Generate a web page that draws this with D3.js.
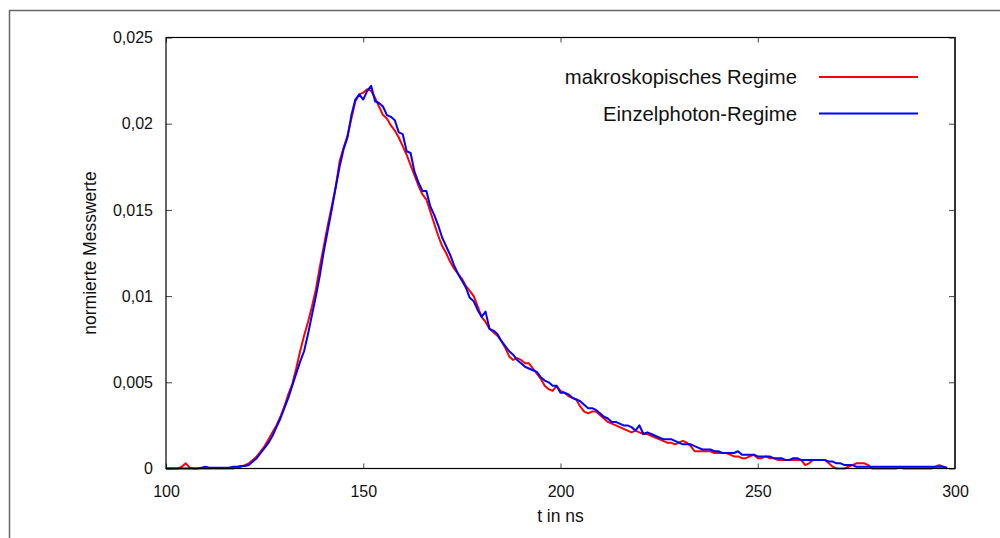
<!DOCTYPE html>
<html>
<head>
<meta charset="utf-8">
<script src="https://cdn.jsdelivr.net/npm/d3@7"></script>
<style>
  html, body { margin: 0; padding: 0; background: #fff; }
  svg { display: block; font-family: "Liberation Sans", Arial, sans-serif; }
</style>
</head>
<body>
<svg id="chart" width="1000" height="538"></svg>
<script>
// ---- data ----
const times = [
  100,101,102,103,104,105,106,107,108,109,110,111,112,113,114,115,116,117,118,119,
  120,121,122,123,124,125,126,127,128,129,130,131,132,133,134,135,136,137,138,139,
  140,141,142,143,144,145,146,147,148,149,150,151,152,153,154,155,156,157,158,159,
  160,161,162,163,164,165,166,167,168,169,170,171,172,173,174,175,176,177,178,179,
  180,181,182,183,184,185,186,187,188,189,190,191,192,193,194,195,196,197,198,199,
  200,201,202,203,204,205,206,207,208,209,210,211,212,213,214,215,216,217,218,219,
  220,221,222,223,224,225,226,227,228,229,230,231,232,233,234,235,236,237,238,239,
  240,241,242,243,244,245,246,247,248,249,250,251,252,253,254,255,256,257,258,259,
  260,261,262,263,264,265,266,267,268,269,270,271,272,273,274,275,276,277,278,279,
  280,281,282,283,284,285,286,287,288,289,290,291,292,293,294,295,296,297,298
];

const makroskopisch = [
  0,0,0,0,0.0001,0.0003,0.00005,0,0,0,0,0,0,0,0,0,0,0,0.00005,0.0001,
  0.0002,0.0003,0.0005,0.0007,0.001,0.0013,0.0017,0.0021,0.0025,0.003,0.0036,0.0043,0.0049,0.0058,0.0068,0.0077,0.0085,0.0094,0.0104,0.0117,
  0.0129,0.0141,0.0152,0.0163,0.0178,0.0186,0.0193,0.0203,0.0213,0.0217,0.0218,0.022,0.0219,0.0215,0.021,0.0205,0.0203,0.0199,0.0196,0.0192,
  0.0187,0.0182,0.0176,0.017,0.0164,0.0159,0.0156,0.0149,0.0142,0.0135,0.0129,0.0125,0.012,0.0116,0.0113,0.011,0.0106,0.0103,0.01,0.0094,
  0.0088,0.0085,0.0081,0.0079,0.0077,0.0074,0.007,0.0065,0.0063,0.0064,0.0063,0.0061,0.0061,0.0058,0.0055,0.0052,0.0048,0.0046,0.0045,0.0048,
  0.0045,0.0044,0.0042,0.0041,0.004,0.0036,0.0033,0.0032,0.0033,0.0033,0.0031,0.0029,0.0027,0.0026,0.0025,0.0024,0.0023,0.0022,0.0021,0.0022,
  0.0021,0.002,0.002,0.0019,0.0018,0.0017,0.0016,0.0015,0.0015,0.0014,0.0015,0.0016,0.0015,0.0013,0.001,0.001,0.001,0.001,0.001,0.0009,
  0.0009,0.0009,0.0009,0.0008,0.0007,0.0007,0.0006,0.0006,0.0007,0.0008,0.0006,0.0006,0.0007,0.0006,0.0006,0.0005,0.0005,0.0005,0.0005,0.0005,
  0.0005,0.0005,0.0002,0.0003,0.0005,0.0005,0.0005,0.0005,0.0003,0.0001,0,0,0,0.0001,0.0002,0.0003,0.0003,0.0003,0.0002,0,
  0,0,0,0,0,0,0.0001,0,0,0,0,0,0,0,0,0.0001,0.0002,0.0001,0
];

const einzelphoton = [
  0,0,0,0,0,0,0,0,0,0.00005,0.0001,0.00005,0.00005,0.00005,0.00005,0.00005,0.00005,0.0001,0.0001,0.00015,
  0.00015,0.0002,0.0004,0.0006,0.0009,0.0012,0.0015,0.0019,0.0024,0.0029,0.0035,0.0041,0.0048,0.0055,0.0062,0.0068,0.0078,0.0089,0.01,0.0112,
  0.0126,0.0138,0.015,0.0163,0.0175,0.0185,0.0192,0.0205,0.0214,0.0217,0.0214,0.0219,0.0222,0.0213,0.0212,0.021,0.0205,0.0204,0.0202,0.0195,
  0.0194,0.0184,0.0183,0.0172,0.0166,0.0161,0.0161,0.0152,0.0147,0.0141,0.0134,0.0129,0.0124,0.0118,0.0113,0.0109,0.0105,0.0099,0.0097,0.0092,
  0.0088,0.0091,0.0081,0.008,0.0078,0.0074,0.0071,0.0068,0.0066,0.0063,0.0061,0.0059,0.0058,0.0057,0.0056,0.0053,0.0051,0.005,0.0048,0.0048,
  0.0044,0.0044,0.0043,0.0041,0.004,0.0039,0.0037,0.0035,0.0035,0.0034,0.0032,0.003,0.0029,0.0027,0.0027,0.0026,0.0025,0.0025,0.0024,0.0022,
  0.0025,0.002,0.0021,0.002,0.0019,0.0018,0.0017,0.0017,0.0017,0.0016,0.0015,0.0014,0.0014,0.0014,0.0013,0.0012,0.0011,0.0011,0.0011,0.001,
  0.001,0.0009,0.0009,0.0009,0.0009,0.001,0.0008,0.0008,0.0008,0.0008,0.0007,0.0007,0.0007,0.0007,0.0006,0.0006,0.0006,0.0005,0.0005,0.0006,
  0.0006,0.0005,0.0005,0.0005,0.0005,0.0005,0.0005,0.0005,0.0004,0.0004,0.0003,0.0003,0.0002,0.0002,0.0002,0.0001,0.0001,0.0001,0.0001,0.0001,
  0.0001,0.0001,0.0001,0.0001,0.0001,0.0001,0.0001,0.0001,0.0001,0.0001,0.0001,0.0001,0.0001,0.0001,0.0001,0.0001,0.0001,0.0001,0.00005
];

const seriesNames = ["makroskopisches Regime", "Einzelphoton-Regime"];
const seriesColors = ["#ff0000", "#0000ff"];

const xTicks = [100, 150, 200, 250, 300];
const xTickLabels = ["100", "150", "200", "250", "300"];
const yTicks = [0, 0.005, 0.01, 0.015, 0.02, 0.025];
const yTickLabels = ["0", "0,005", "0,01", "0,015", "0,02", "0,025"];

const xLabel = "t in ns";
const yLabel = "normierte Messwerte";

// ---- layout ----
const svg = d3.select("#chart");
const L = 166, R = 955, T = 37.5, B = 468.5;

const x = d3.scaleLinear().domain([100, 300]).range([L, R]);
const y = d3.scaleLinear().domain([0, 0.025]).range([B, T]);

// outer frame
svg.append("rect")
  .attr("x", 9.5).attr("y", 10.5)
  .attr("width", 1010).attr("height", 540)
  .attr("fill", "none").attr("stroke", "#666").attr("stroke-width", 1.5);

// axes (inside ticks)
const fontSize = 16;
const labelSize = 17.5;
const legendSize = 20.3;
const xAxis = d3.axisBottom(x).tickValues(xTicks)
  .tickFormat((d, i) => xTickLabels[i]).tickSizeInner(-5).tickSizeOuter(0).tickPadding(17);
const yAxis = d3.axisLeft(y).tickValues(yTicks)
  .tickFormat((d, i) => yTickLabels[i]).tickSizeInner(-6).tickSizeOuter(0).tickPadding(13);
const xAxisTop = d3.axisTop(x).tickValues(xTicks).tickFormat("").tickSizeInner(-5).tickSizeOuter(0);
const yAxisRight = d3.axisRight(y).tickValues(yTicks).tickFormat("").tickSizeInner(-6).tickSizeOuter(0);

function styleAxis(g) {
  g.select(".domain").remove();
  g.selectAll(".tick line").attr("stroke", "#444").attr("stroke-width", 1);
  g.selectAll(".tick text").attr("fill", "#111").style("font-size", fontSize + "px")
    .style("font-family", '"Liberation Sans", Arial, sans-serif');
}

svg.append("g").attr("transform", `translate(0,${B})`).call(xAxis).call(styleAxis);
svg.append("g").attr("transform", `translate(${L},0)`).call(yAxis).call(styleAxis);
svg.append("g").attr("transform", `translate(0,${T})`).call(xAxisTop).call(styleAxis);
svg.append("g").attr("transform", `translate(${R},0)`).call(yAxisRight).call(styleAxis);

// series lines
const seriesData = [makroskopisch, einzelphoton];
const line = d3.line().x((d, i) => x(times[i])).y(d => y(d));
seriesData.forEach((vals, k) => {
  svg.append("path")
    .datum(vals)
    .attr("fill", "none")
    .attr("stroke", seriesColors[k])
    .attr("stroke-width", 2)
    .attr("stroke-linejoin", "round")
    .attr("d", line);
});

// plot frame
svg.append("rect")
  .attr("x", L).attr("y", T).attr("width", R - L).attr("height", B - T)
  .attr("fill", "none").attr("stroke", "#000").attr("stroke-width", 1.2);
svg.append("line")
  .attr("x1", R).attr("x2", R).attr("y1", T).attr("y2", B)
  .attr("stroke", "#333").attr("stroke-width", 2);

// axis labels
svg.append("text")
  .attr("x", (L + R) / 2).attr("y", 522)
  .attr("text-anchor", "middle")
  .style("font-size", labelSize + "px").attr("fill", "#111")
  .text(xLabel);
svg.append("text")
  .attr("transform", `translate(96,${(T + B) / 2}) rotate(-90)`)
  .attr("text-anchor", "middle")
  .style("font-size", labelSize + "px").attr("fill", "#111")
  .text(yLabel);

// legend
const legendY = [77, 113.5];
seriesNames.forEach((name, k) => {
  svg.append("text")
    .attr("x", 797).attr("y", legendY[k]).attr("dy", "0.35em")
    .attr("text-anchor", "end")
    .style("font-size", legendSize + "px").attr("fill", "#111")
    .text(name);
  svg.append("line")
    .attr("x1", 819).attr("x2", 918)
    .attr("y1", legendY[k]).attr("y2", legendY[k])
    .attr("stroke", seriesColors[k]).attr("stroke-width", 2);
});
</script>
</body>
</html>
